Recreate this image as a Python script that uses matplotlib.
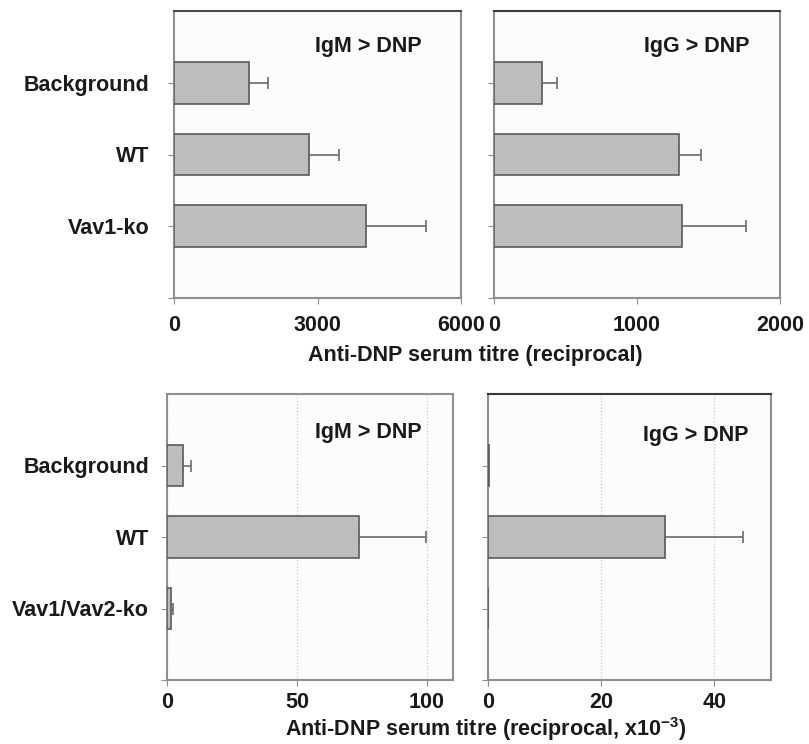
"""Anti-DNP serum titres, IgM and IgG, two experiments."""

import matplotlib

matplotlib.use("Agg")
import matplotlib.pyplot as plt
import numpy as np

plt.rcParams["font.family"] = ["Liberation Sans", "DejaVu Sans"]
plt.rcParams["font.weight"] = "bold"
plt.rcParams["mathtext.fontset"] = "custom"
plt.rcParams["mathtext.rm"] = "Liberation Sans:bold"
plt.rcParams["mathtext.bf"] = "Liberation Sans:bold"
plt.rcParams["mathtext.default"] = "bf"

# top experiment (reciprocal titre)
groups_top = ["Background", "WT", "Vav1-ko"]
igm_top = [1570, 2820, 4010]
igm_top_err = [400, 630, 1250]
igg_top = [335, 1295, 1315]
igg_top_err = [105, 150, 450]

# bottom experiment (reciprocal titre x 10^-3)
groups_bottom = ["Background", "WT", "Vav1/Vav2-ko"]
igm_bottom = [6.3, 74, 1.5]
igm_bottom_err = [3.0, 25.5, 0.8]
igg_bottom = [0.2, 31.3, 0.0]
igg_bottom_err = [0.0, 13.7, 0.0]

BAR_FILL = "#bdbdbf"
BAR_EDGE = "#5a5a5a"
ERR_COLOR = "#6a6a6a"
SPINE = "#8f8f8f"
TEXT = "#1a1a1a"
FS = 15.5

W, H = 809, 744


def px_axes(fig, x0, y0, x1, y1):
    """Add axes from pixel box (left, top, right, bottom)."""
    return fig.add_axes([x0 / W, 1 - y1 / H, (x1 - x0) / W, (y1 - y0) / H])


def draw_panel(ax, values, errs, labels, xmax, xticks, title, title_pos,
               show_labels, label_pad, top_color, xpad=8, grid=False):
    y = np.arange(1, len(values) + 1)
    ax.set_facecolor("#fcfcfc")
    ax.barh(y, values, height=0.585, color=BAR_FILL, edgecolor=BAR_EDGE,
            linewidth=1.2, zorder=3)
    vals = np.asarray(values)
    err = np.asarray(errs)
    keep = err > 0
    if keep.any():
        ax.errorbar(vals[keep], y[keep],
                    xerr=[np.zeros(keep.sum()), err[keep]],
                    fmt="none", ecolor=ERR_COLOR, elinewidth=1.2,
                    capsize=4, capthick=1.2, zorder=4)
    ax.set_ylim(len(values) + 1, 0)
    ax.set_xlim(0, xmax)
    ax.set_yticks(list(y) + [len(values) + 1])
    ax.set_yticklabels(labels + [""] if show_labels else [""] * (len(values) + 1))
    ax.set_xticks(xticks)
    ax.set_xticklabels([str(t) for t in xticks])
    ax.tick_params(axis="y", direction="out", length=4, color=SPINE,
                   pad=label_pad, labelsize=FS, labelcolor=TEXT)
    ax.tick_params(axis="x", direction="out", length=4, color=SPINE,
                   pad=xpad, labelsize=FS, labelcolor=TEXT)
    for name, spine in ax.spines.items():
        spine.set_color(SPINE)
        spine.set_linewidth(1.5)
    ax.spines["top"].set_color(top_color)
    if grid:
        ax.xaxis.grid(True, linestyle=":", color="#c8c8c8", linewidth=0.9)
        ax.set_axisbelow(True)
    ax.text(title_pos[0], title_pos[1], title, transform=ax.transAxes,
            ha="right", va="center", fontsize=FS, fontweight="bold",
            color=TEXT)


fig = plt.figure(figsize=(W / 100, H / 100), dpi=100)

ax_tl = px_axes(fig, 174, 11, 461, 298)
ax_tr = px_axes(fig, 494, 11, 780, 298)
ax_bl = px_axes(fig, 167, 394, 453, 680)
ax_br = px_axes(fig, 488, 394, 771, 680)

draw_panel(ax_tl, igm_top, igm_top_err, groups_top, 6000, [0, 3000, 6000],
           "IgM > DNP", (0.864, 0.875), True, 14, "#4a4a4a")
draw_panel(ax_tr, igg_top, igg_top_err, groups_top, 2000, [0, 1000, 2000],
           "IgG > DNP", (0.895, 0.875), False, 14, "#3a3a3a")
draw_panel(ax_bl, igm_bottom, igm_bottom_err, groups_bottom, 110,
           [0, 50, 100], "IgM > DNP", (0.892, 0.864), True, 9, "#8f8f8f",
           xpad=5, grid=True)
draw_panel(ax_br, igg_bottom, igg_bottom_err, groups_bottom, 50,
           [0, 20, 40], "IgG > DNP", (0.919, 0.855), False, 9, "#3a3a3a",
           xpad=5, grid=True)

fig.text(475 / W, 1 - 361 / H, "Anti-DNP serum titre (reciprocal)",
         ha="center", va="baseline", fontsize=FS, fontweight="bold",
         color=TEXT)
fig.text(486 / W, 1 - 736 / H,
         r"Anti-DNP serum titre (reciprocal, x10$^{\mathbf{-3}}$)",
         ha="center", va="baseline", fontsize=FS, fontweight="bold",
         color=TEXT)

fig.savefig("out.png", dpi=100, facecolor="white")
